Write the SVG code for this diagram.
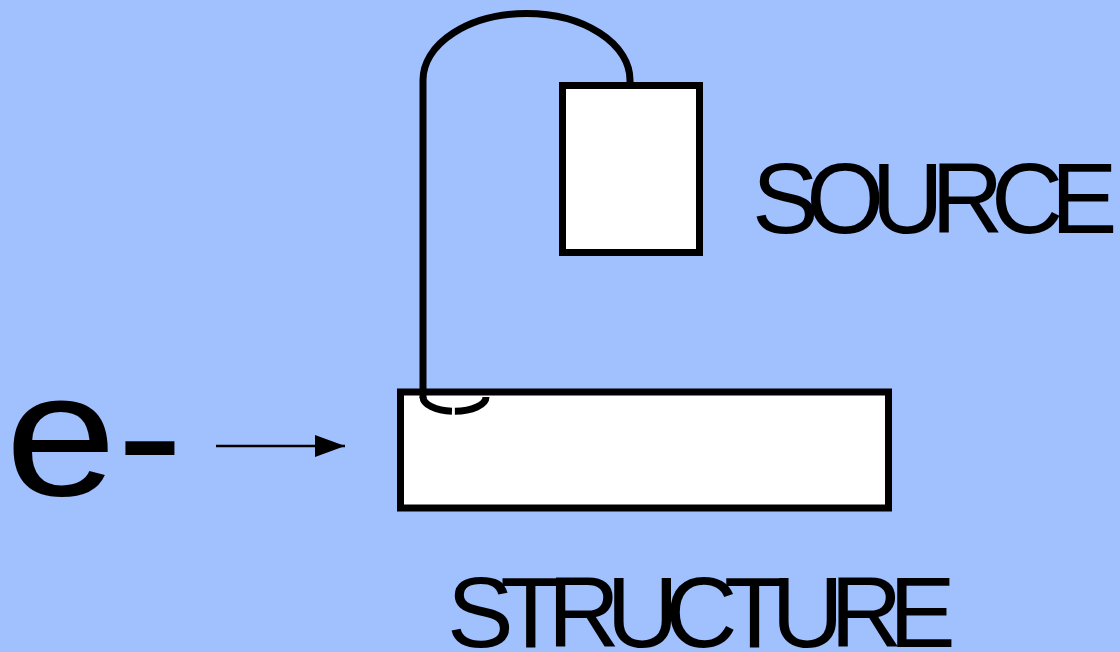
<svg xmlns="http://www.w3.org/2000/svg" width="1120" height="652" viewBox="0 0 1120 652">
  <style>
    .box { fill: #ffffff; stroke: #000000; stroke-width: 7; }
    .wire { fill: none; stroke: #000000; stroke-width: 7; }
    .label { font-family: "Liberation Sans", Arial, sans-serif; fill: #000000; }
  </style>
  <defs>
    <marker id="arrowhead" markerUnits="userSpaceOnUse" markerWidth="32" markerHeight="22" refX="30" refY="11" orient="auto">
      <path d="M0,0 L30,11 L0,22 Z" fill="#000000"/>
    </marker>
  </defs>

  <rect x="0" y="0" width="1120" height="652" fill="#a1c0fe"/>

  <g id="structure">
    <rect class="box" x="400.5" y="392" width="488" height="116"/>
    <text class="label" x="447" y="647" font-size="100" letter-spacing="-13.5">STRUCTURE</text>
  </g>

  <g id="source">
    <rect class="box" x="562.5" y="85.5" width="137" height="167"/>
    <text class="label" x="752" y="233" font-size="100" letter-spacing="-12.5">SOURCE</text>
  </g>

  <g id="electron">
    <text class="label" transform="translate(5,495) scale(1.14,1)" x="0" y="0" font-size="176">e-</text>
  </g>

  <g id="connectors">
    <!-- cable from the source down into the structure -->
    <path class="wire" d="M423,398 L423,80 A103.5,66.5 0 0 1 630,80 L630,84"/>
    <path class="wire" d="M423,397 A31,14 0 0 0 486,397" stroke-width="6" stroke-dasharray="34.5 3 40"/>
    <!-- incoming electron arrow -->
    <line x1="216" y1="446" x2="345" y2="446" stroke="#000000" stroke-width="2.5" marker-end="url(#arrowhead)"/>
  </g>
</svg>
